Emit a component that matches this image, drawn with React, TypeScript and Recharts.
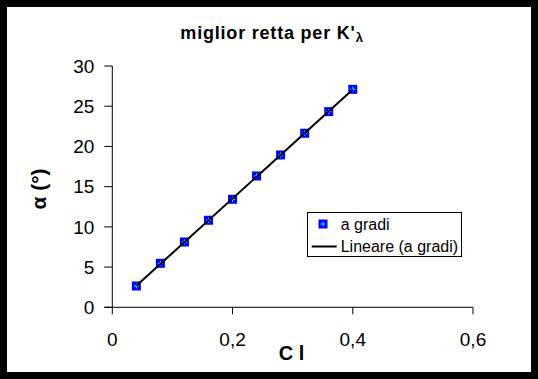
import { CartesianGrid, Scatter, ScatterChart, XAxis, YAxis } from "recharts";

const cl = [0.04, 0.08, 0.12, 0.16, 0.2, 0.24, 0.28, 0.32, 0.36, 0.4];
const gradi = [2.65, 5.47, 8.12, 10.82, 13.43, 16.33, 18.94, 21.64, 24.33, 27.1];
const trendX = [0.04, 0.4];
const trendY = [2.68, 27.08];
const xTicks = [0, 0.2, 0.4, 0.6];
const yTicks = [0, 5, 10, 15, 20, 25, 30];

const points = cl.map((x, i) => ({ x, y: gradi[i] }));
const trend = trendX.map((x, i) => ({ x, y: trendY[i] }));

const FONT = "'Liberation Sans', Arial, sans-serif";
const BLUE = "#0000ff";
const CYAN = "#00ffff";

function Marker(props: any) {
  const { cx, cy } = props;
  if (cx == null || cy == null) return <g />;
  return (
    <g>
      <rect x={cx - 4.5} y={cy - 4.5} width={9} height={9} fill={BLUE} />
      <line x1={cx - 2.5} y1={cy} x2={cx + 2.5} y2={cy} stroke={CYAN} strokeWidth={1} />
      <line x1={cx} y1={cy - 2.5} x2={cx} y2={cy + 2.5} stroke={CYAN} strokeWidth={1} />
    </g>
  );
}

const fmtX = (v: number) => String(v).replace(".", ",");

export default function App() {
  return (
    <div
      style={{
        position: "fixed",
        left: 0,
        top: 0,
        width: 538,
        height: 379,
        boxSizing: "border-box",
        border: "7px solid #000",
        background: "#fff",
      }}
    >
      <ScatterChart width={524} height={365} margin={{ top: 59, right: 58, bottom: 34.7, left: 45.3 }}>
        <CartesianGrid stroke="none" />
        <XAxis
          type="number"
          dataKey="x"
          domain={[0, 0.6]}
          ticks={xTicks}
          tickFormatter={fmtX}
          height={30}
          stroke="#000"
          tickSize={7}
          tickMargin={18}
          tick={{ fill: "#000", fontSize: 19, fontFamily: FONT }}
        />
        <YAxis
          type="number"
          dataKey="y"
          domain={[0, 30]}
          ticks={yTicks}
          width={60}
          stroke="#000"
          tickSize={8}
          tickMargin={10}
          tick={{ fill: "#000", fontSize: 19, fontFamily: FONT }}
        />
        <Scatter data={points} shape={Marker} isAnimationActive={false} />
        <Scatter
          data={trend}
          line={{ stroke: "#000", strokeWidth: 2 }}
          shape={() => <g />}
          isAnimationActive={false}
        />
        {/* axis crossing stub, like the spreadsheet draws it */}
        <line x1={97.3} y1={300.3} x2={105.3} y2={300.3} stroke="#000" strokeWidth={1} />
        <text x={265} y={32} textAnchor="middle" fontFamily={FONT} fontWeight="bold" fontSize={18} letterSpacing={0.8} fill="#000">
          miglior retta per K'
          <tspan fontSize={13} dy={3}>λ</tspan>
        </text>
        <text x={284.5} y={353} textAnchor="middle" fontFamily={FONT} fontWeight="bold" fontSize={20} fill="#000">
          C l
        </text>
        <text
          x={31}
          y={182}
          textAnchor="middle"
          transform="rotate(-90 31 182)"
          dominantBaseline="central"
          fontFamily={FONT}
          fontWeight="bold"
          fontSize={21}
          fill="#000"
        >
          α (°)
        </text>
        <g>
          <rect x={300.5} y={205.5} width={154} height={44} fill="#fff" stroke="#000" strokeWidth={1} />
          <Marker cx={316} cy={217} />
          <text x={333.7} y={222.5} fontFamily={FONT} fontSize={16} fill="#000">a gradi</text>
          <line x1={304.7} y1={239.5} x2={329.7} y2={239.5} stroke="#000" strokeWidth={2} />
          <text x={333.7} y={244.5} fontFamily={FONT} fontSize={16} fill="#000">Lineare (a gradi)</text>
        </g>
      </ScatterChart>
    </div>
  );
}
